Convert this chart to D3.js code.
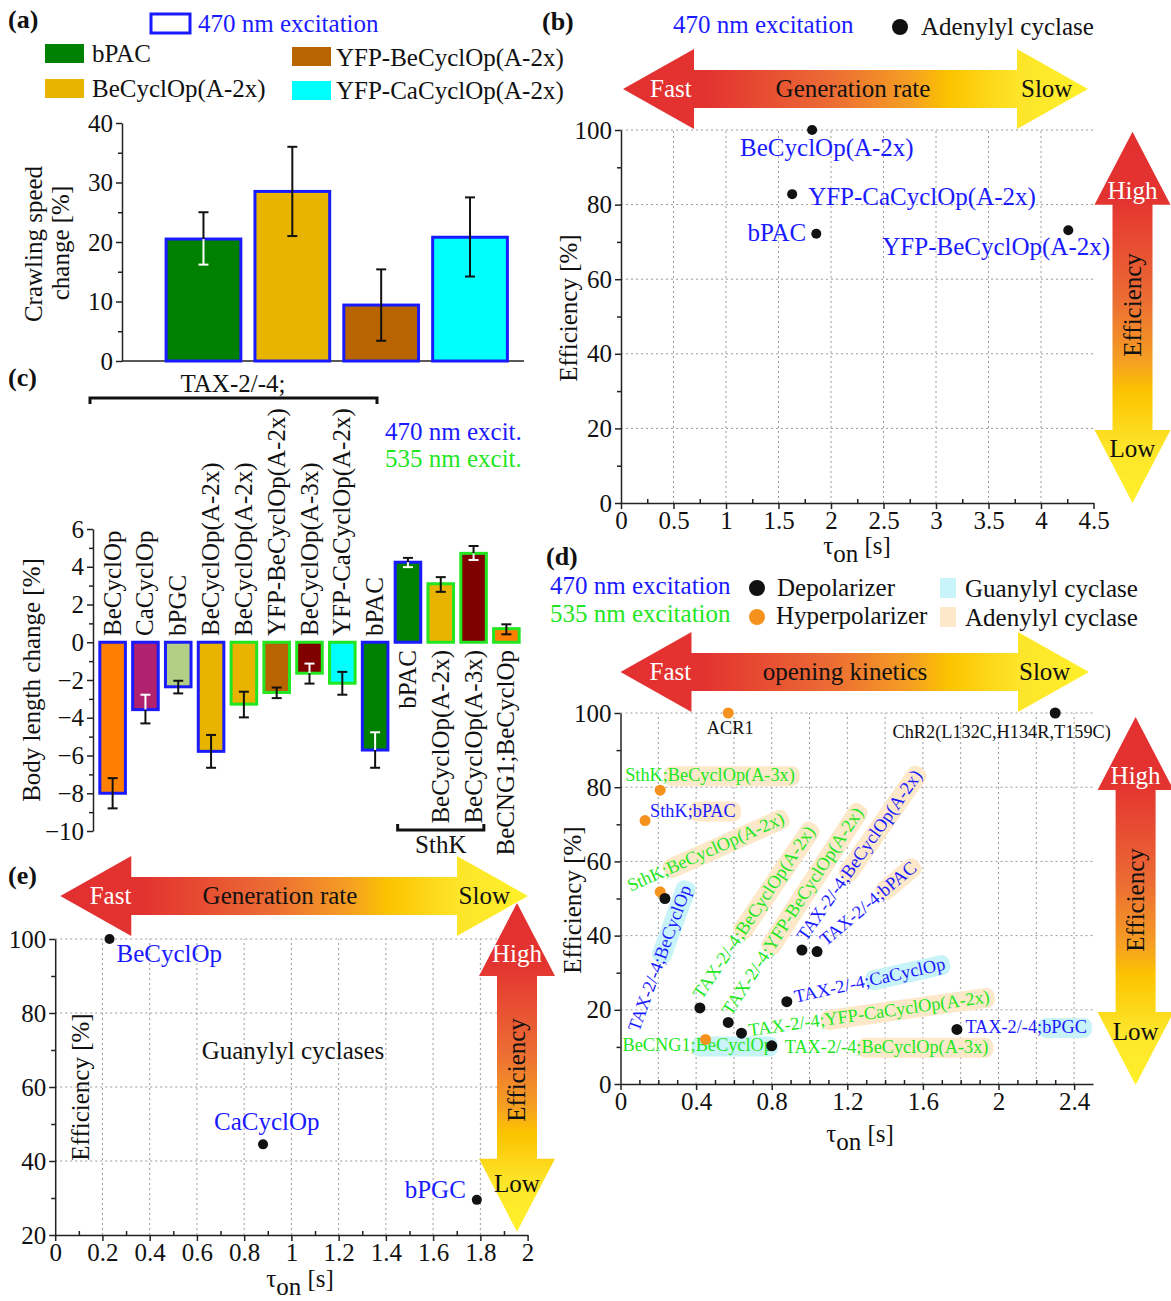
<!DOCTYPE html>
<html>
<head>
<meta charset="utf-8">
<script src="https://cdn.jsdelivr.net/npm/d3@7"></script>
<style>
  body { margin: 0; background: #fff; }
  svg text { font-family: "Liberation Serif", "Times New Roman", serif; }
</style>
</head>
<body>
<svg id="fig" width="1171" height="1301"></svg>
<script>
// ---------- data ----------
// (a) crawling speed
const aNames = ["bPAC", "BeCyclOp(A-2x)", "YFP-BeCyclOp(A-2x)", "YFP-CaCyclOp(A-2x)"];
const aValues = [20.5, 28.5, 9.4, 20.8];
const aErrLow = [16.2, 21.0, 3.4, 14.2];
const aErrHigh = [25.0, 36.0, 15.4, 27.5];
const aTicks = [0, 10, 20, 30, 40];
const aMinor = [5, 15, 25, 35];

// (b) adenylyl cyclases
const bNames = ["BeCyclOp(A-2x)", "YFP-CaCyclOp(A-2x)", "bPAC", "YFP-BeCyclOp(A-2x)"];
const bTau = [1.82, 1.63, 1.86, 4.26];
const bEff = [100, 82.8, 72.2, 73.1];
const bXTicks = [0, 0.5, 1, 1.5, 2, 2.5, 3, 3.5, 4, 4.5];
const bYTicks = [0, 20, 40, 60, 80, 100];

// (c) body length change
const cNames = ["BeCyclOp", "CaCyclOp", "bPGC", "BeCyclOp(A-2x)", "BeCyclOp(A-2x)",
  "YFP-BeCyclOp(A-2x)", "BeCyclOp(A-3x)", "YFP-CaCyclOp(A-2x)", "bPAC",
  "bPAC", "BeCyclOp(A-2x)", "BeCyclOp(A-3x)", "BeCNG1;BeCyclOp"];
const cGroup = ["TAX", "TAX", "TAX", "TAX", "TAX", "TAX", "TAX", "TAX", "TAX",
  "SthK", "SthK", "SthK", "other"];
const cExc = [470, 470, 470, 470, 535, 535, 535, 535, 470, 470, 535, 535, 535];
const cValues = [-8.0, -3.57, -2.36, -5.78, -3.28, -2.66, -1.64, -2.17, -5.71, 4.24, 3.1, 4.71, 0.72];
const cErrLow = [-8.8, -4.3, -2.71, -6.65, -3.98, -2.96, -2.19, -2.78, -6.65, 3.98, 2.67, 4.36, 0.42];
const cErrHigh = [-7.2, -2.78, -2.04, -4.91, -2.62, -2.4, -1.13, -1.57, -4.77, 4.47, 3.45, 5.1, 0.95];
const cTicks = [-10, -8, -6, -4, -2, 0, 2, 4, 6];

// (d) opening kinetics
const dNames = ["ACR1", "ChR2(L132C,H134R,T159C)", "SthK;BeCyclOp(A-3x)", "SthK;bPAC",
  "SthK;BeCyclOp(A-2x)", "TAX-2/-4;BeCyclOp", "BeCNG1;BeCyclOp", "TAX-2/-4;BeCyclOp(A-2x)",
  "TAX-2/-4;YFP-BeCyclOp(A-2x)", "TAX-2/-4;YFP-CaCyclOp(A-2x)", "TAX-2/-4;BeCyclOp(A-3x)",
  "TAX-2/-4;CaCyclOp", "TAX-2/-4;BeCyclOp(A-2x)", "TAX-2/-4;bPAC", "TAX-2/-4;bPGC"];
const dTau = [0.57, 2.30, 0.21, 0.13, 0.21, 0.235, 0.45, 0.42, 0.57, 0.64, 0.80, 0.88, 0.96, 1.04, 1.78];
const dEff = [100, 100, 79.2, 71, 51.8, 50, 12, 20.5, 16.6, 13.7, 10.3, 22.2, 36.1, 35.7, 14.7];
const dKind = ["hyper", "depol", "hyper", "hyper", "hyper", "depol", "hyper", "depol",
  "depol", "depol", "depol", "depol", "depol", "depol", "depol"];
const dExc = [0, 0, 535, 470, 535, 470, 535, 535, 535, 535, 535, 470, 470, 470, 470];
const dCyclase = ["", "", "adenylyl", "adenylyl", "adenylyl", "guanylyl", "guanylyl", "adenylyl",
  "adenylyl", "adenylyl", "adenylyl", "guanylyl", "adenylyl", "adenylyl", "guanylyl"];
const dXTicks = [0, 0.4, 0.8, 1.2, 1.6, 2, 2.4];
const dXGrid = [0.2, 0.4, 0.6, 0.8, 1, 1.2, 1.4, 1.6, 1.8, 2, 2.2, 2.4];
const dYTicks = [0, 20, 40, 60, 80, 100];

// (e) guanylyl cyclases
const eNames = ["BeCyclOp", "CaCyclOp", "bPGC"];
const eTau = [0.23, 0.88, 1.785];
const eEff = [100, 44.5, 29.5];
const eXTicks = [0, 0.2, 0.4, 0.6, 0.8, 1, 1.2, 1.4, 1.6, 1.8, 2];
const eYTicks = [20, 40, 60, 80, 100];

// ---------- styles ----------
const BLUE = "#1a1aff", GREEN = "#22e622", ORANGE_DOT = "#f5921e";
const fillOf = {
  "bPAC": "#008000", "BeCyclOp(A-2x)": "#e8b400", "YFP-BeCyclOp(A-2x)": "#b86400",
  "YFP-CaCyclOp(A-2x)": "#00ffff", "BeCyclOp": "#ff8000", "CaCyclOp": "#b0226e",
  "bPGC": "#b3cf85", "BeCyclOp(A-3x)": "#800000", "BeCNG1;BeCyclOp": "#ff8000"
};
const excColor = e => e === 470 ? BLUE : e === 535 ? GREEN : "#111";
const bgOf = { guanylyl: "#c8f3f8", adenylyl: "#fde8c9" };
const FONT = "Liberation Serif";
const FS = 25;

const svg = d3.select("#fig");
const defs = svg.append("defs");

const gh = defs.append("linearGradient").attr("id", "gradH")
  .attr("x1", 0).attr("y1", 0).attr("x2", 1).attr("y2", 0);
const gv = defs.append("linearGradient").attr("id", "gradV")
  .attr("x1", 0).attr("y1", 0).attr("x2", 0).attr("y2", 1);
const stops = [[0, "#e23030"], [0.18, "#e33330"], [0.45, "#ec6c34"], [0.62, "#f5a022"],
  [0.7, "#fcc300"], [0.85, "#fde52a"], [1, "#fff02a"]];
stops.forEach(s => {
  gh.append("stop").attr("offset", s[0]).attr("stop-color", s[1]);
  gv.append("stop").attr("offset", s[0]).attr("stop-color", s[1]);
});

// ---------- helpers ----------
function txt(g, x, y, s, opt = {}) {
  const t = g.append("text").attr("x", x).attr("y", y)
    .attr("font-size", opt.size || FS)
    .attr("fill", opt.color || "#111")
    .attr("text-anchor", opt.anchor || "start")
    .text(s);
  if (opt.bold) t.attr("font-weight", "bold");
  if (opt.rotate) t.attr("transform", `rotate(${opt.rotate},${x},${y})`);
  return t;
}

function styleAxis(ax) {
  ax.attr("font-family", FONT).attr("font-size", FS);
  ax.selectAll("path, line").attr("stroke", "#222").attr("stroke-width", 1.5);
  ax.selectAll("text").attr("fill", "#111");
}

function leftAxis(g, y, x0, majors, minors, fmt) {
  const a = g.append("g").attr("transform", `translate(${x0},0)`)
    .call(d3.axisLeft(y).tickValues(majors).tickSize(6).tickPadding(3).tickSizeOuter(0)
      .tickFormat(fmt || (d => String(d))));
  styleAxis(a);
  if (minors) {
    const m = g.append("g").attr("transform", `translate(${x0},0)`)
      .call(d3.axisLeft(y).tickValues(minors).tickSize(4).tickFormat(""));
    m.select(".domain").remove();
    styleAxis(m);
  }
}

function bottomAxis(g, x, y0, majors, minors, fmt) {
  const a = g.append("g").attr("transform", `translate(0,${y0})`)
    .call(d3.axisBottom(x).tickValues(majors).tickSize(6).tickPadding(2).tickSizeOuter(0)
      .tickFormat(fmt || (d => String(d))));
  styleAxis(a);
  if (minors) {
    const m = g.append("g").attr("transform", `translate(0,${y0})`)
      .call(d3.axisBottom(x).tickValues(minors).tickSize(-4).tickFormat(""));
    m.select(".domain").remove();
    styleAxis(m);
  }
}

function grid(g, x, y, xs, ys) {
  const [x0, x1] = x.range(), yTop = y(y.domain()[1]), yBot = y(y.domain()[0]);
  xs.forEach(v => g.append("line").attr("x1", x(v)).attr("x2", x(v))
    .attr("y1", yBot).attr("y2", yTop).attr("stroke", "#9a9a9a")
    .attr("stroke-width", 1).attr("stroke-dasharray", "2,3"));
  ys.forEach(v => g.append("line").attr("x1", x0).attr("x2", x1)
    .attr("y1", y(v)).attr("y2", y(v)).attr("stroke", "#9a9a9a")
    .attr("stroke-width", 1).attr("stroke-dasharray", "2,3"));
}

function hArrow(g, x0, x1, yc, texts) {
  const L = 71, H = 40, S = 19;
  const p = d3.path();
  p.moveTo(x0, yc); p.lineTo(x0 + L, yc - H); p.lineTo(x0 + L, yc - S);
  p.lineTo(x1 - L, yc - S); p.lineTo(x1 - L, yc - H); p.lineTo(x1, yc);
  p.lineTo(x1 - L, yc + H); p.lineTo(x1 - L, yc + S); p.lineTo(x0 + L, yc + S);
  p.lineTo(x0 + L, yc + H); p.closePath();
  g.append("path").attr("d", p.toString()).attr("fill", "url(#gradH)");
  txt(g, texts[0], yc + 8, "Fast", { color: "#fff" });
  txt(g, texts[1], yc + 8, texts[2], { anchor: "middle" });
  txt(g, texts[3], yc + 8, "Slow");
}

function vArrow(g, xc, y0, y1, hiBase, lowBase, effMid) {
  const L = 73, W = 38, S = 20;
  const p = d3.path();
  p.moveTo(xc, y0); p.lineTo(xc + W, y0 + L); p.lineTo(xc + S, y0 + L);
  p.lineTo(xc + S, y1 - L); p.lineTo(xc + W, y1 - L); p.lineTo(xc, y1);
  p.lineTo(xc - W, y1 - L); p.lineTo(xc - S, y1 - L); p.lineTo(xc - S, y0 + L);
  p.lineTo(xc - W, y0 + L); p.closePath();
  g.append("path").attr("d", p.toString()).attr("fill", "url(#gradV)");
  txt(g, xc, hiBase, "High", { color: "#fff", anchor: "middle" });
  txt(g, xc, lowBase, "Low", { anchor: "middle" });
  txt(g, xc + 8, effMid, "Efficiency", { anchor: "middle", rotate: -90 });
}

function tauLabel(g, xc, yb) {
  const t = g.append("text").attr("x", xc).attr("y", yb).attr("font-size", FS)
    .attr("fill", "#111").attr("text-anchor", "middle");
  t.append("tspan").text("τ");
  t.append("tspan").attr("dy", 8).text("on");
  t.append("tspan").attr("dy", -8).text(" [s]");
}

function errBar(g, xc, lo, hi, top, bottom, dark) {
  // part inside a dark bar is drawn white
  const inside = v => v >= top && v <= bottom;
  const seg = (a, b, col) => g.append("line").attr("x1", xc).attr("x2", xc)
    .attr("y1", a).attr("y2", b).attr("stroke", col).attr("stroke-width", 2);
  const cap = (v) => g.append("line").attr("x1", xc - 5).attr("x2", xc + 5)
    .attr("y1", v).attr("y2", v).attr("stroke", dark && inside(v) ? "#fff" : "#111")
    .attr("stroke-width", 2);
  const y1 = Math.min(lo, hi), y2 = Math.max(lo, hi);
  if (!dark) { seg(y1, y2, "#111"); }
  else {
    const a = Math.max(y1, top), b = Math.min(y2, bottom);
    if (y1 < a) seg(y1, Math.min(a, y2), "#111");
    if (b > a) seg(a, b, "#fff");
    if (y2 > b) seg(Math.max(b, y1), y2, "#111");
  }
  cap(y1); cap(y2);
}
const isDark = c => d3.lab(c).l < 48;

// ---------- panel labels ----------
txt(svg, 8, 28, "(a)", { bold: true, size: 26 });
txt(svg, 542, 30, "(b)", { bold: true, size: 26 });
txt(svg, 8, 386, "(c)", { bold: true, size: 26 });
txt(svg, 546, 565, "(d)", { bold: true, size: 26 });
txt(svg, 8, 884, "(e)", { bold: true, size: 26 });

// ---------- (a) ----------
{
  const g = svg.append("g");
  const y = d3.scaleLinear().domain([0, 40]).range([361, 123]);
  const x = d3.scaleBand().domain(aNames).range([159, 514.5]).paddingInner(0.159).paddingOuter(0.08);

  // legend
  g.append("rect").attr("x", 151).attr("y", 14).attr("width", 39).attr("height", 19)
    .attr("fill", "none").attr("stroke", BLUE).attr("stroke-width", 3);
  txt(g, 198, 32, "470 nm excitation", { color: BLUE });
  const legPos = [[45, 44, 92, 62], [45, 79, 92, 97], [292, 47, 336, 66], [292, 81, 336, 99]];
  aNames.forEach((n, i) => {
    const [sx, sy, tx, ty] = legPos[i];
    g.append("rect").attr("x", sx).attr("y", sy).attr("width", 39).attr("height", 19)
      .attr("fill", fillOf[n]);
    txt(g, tx, ty, n);
  });

  leftAxis(g, y, 122, aTicks, aMinor);
  g.append("line").attr("x1", 122).attr("x2", 524).attr("y1", 361).attr("y2", 361)
    .attr("stroke", "#222").attr("stroke-width", 1.5);

  aNames.forEach((n, i) => {
    g.append("rect").attr("x", x(n)).attr("y", y(aValues[i]))
      .attr("width", x.bandwidth()).attr("height", y(0) - y(aValues[i]))
      .attr("fill", fillOf[n]).attr("stroke", BLUE).attr("stroke-width", 3);
  });
  aNames.forEach((n, i) => {
    errBar(g, x(n) + x.bandwidth() / 2, y(aErrHigh[i]), y(aErrLow[i]),
      y(aValues[i]), y(0), isDark(fillOf[n]));
  });

  txt(g, 42, 244, "Crawling speed", { anchor: "middle", rotate: -90 });
  txt(g, 69, 243, "change  [%]", { anchor: "middle", rotate: -90 });
}

// ---------- (b) ----------
{
  const g = svg.append("g");
  const x = d3.scaleLinear().domain([0, 4.5]).range([621, 1093.5]);
  const y = d3.scaleLinear().domain([0, 100]).range([503, 130]);

  txt(g, 673, 33, "470 nm excitation", { color: BLUE });
  g.append("circle").attr("cx", 900).attr("cy", 27).attr("r", 8).attr("fill", "#111");
  txt(g, 921, 35, "Adenylyl cyclase");

  grid(g, x, y, bXTicks.filter(v => v > 0 && v < 4.5), bYTicks.filter(v => v > 0));
  leftAxis(g, y, 621, bYTicks, [10, 30, 50, 70, 90]);
  bottomAxis(g, x, 503, bXTicks, [0.25, 0.75, 1.25, 1.75, 2.25, 2.75, 3.25, 3.75, 4.25]);

  hArrow(g, 623, 1088, 89, [650, 853, "Generation rate", 1021]);
  vArrow(g, 1132.5, 131.7, 503, 198.7, 457, 305);

  bNames.forEach((n, i) => {
    g.append("circle").attr("cx", x(bTau[i])).attr("cy", y(bEff[i])).attr("r", 5).attr("fill", "#111");
  });
  const bLab = [[-72, 26, "start"], [16, 11, "start"], [-10, 7, "end"], [-186, 25, "start"]];
  bNames.forEach((n, i) => {
    txt(g, x(bTau[i]) + bLab[i][0], y(bEff[i]) + bLab[i][1], n, { color: BLUE, anchor: bLab[i][2] });
  });

  txt(g, 577, 308, "Efficiency [%]", { anchor: "middle", rotate: -90 });
  tauLabel(g, 857, 554);
}

// ---------- (c) ----------
{
  const g = svg.append("g");
  const y = d3.scaleLinear().domain([-10, 6]).range([831, 529]);
  const x = d3.scaleBand().domain(d3.range(cNames.length)).range([96.2, 522.8])
    .paddingInner(0.129).paddingOuter(0.065);

  txt(g, 385, 440, "470 nm excit.", { color: BLUE });
  txt(g, 385, 467, "535 nm excit.", { color: GREEN });

  // TAX-2/-4 bracket
  txt(g, 233, 392, "TAX-2/-4;", { anchor: "middle" });
  g.append("path").attr("d", `M90,404 V398 H377 V404`).attr("fill", "none")
    .attr("stroke", "#111").attr("stroke-width", 3);

  leftAxis(g, y, 93, cTicks, [-9, -7, -5, -3, -1, 1, 3, 5], d3.format(""));

  cNames.forEach((n, i) => {
    const v = cValues[i];
    g.append("rect").attr("x", x(i) + 1.5).attr("y", y(Math.max(0, v)))
      .attr("width", x.bandwidth() - 3).attr("height", Math.abs(y(v) - y(0)))
      .attr("fill", fillOf[n]).attr("stroke", cExc[i] === 470 ? BLUE : GREEN)
      .attr("stroke-width", 3);
  });
  cNames.forEach((n, i) => {
    const v = cValues[i];
    errBar(g, x(i) + x.bandwidth() / 2, y(cErrHigh[i]), y(cErrLow[i]),
      y(Math.max(0, v)), y(Math.min(0, v)), isDark(fillOf[n]));
  });
  // bar names
  cNames.forEach((n, i) => {
    const cx = x(i) + x.bandwidth() / 2 + 8;
    if (cValues[i] < 0) txt(g, cx, 636, n, { rotate: -90 });
    else txt(g, cx, 650, n, { rotate: -90, anchor: "end" });
  });
  // SthK bracket
  const sth = cGroup.map((c, i) => i).filter(i => cGroup[i] === "SthK");
  const sx0 = x(sth[0]) + 4, sx1 = x(sth[sth.length - 1]) + x.bandwidth() - 4;
  g.append("path").attr("d", `M${sx0},824 V830 H${sx1} V824`).attr("fill", "none")
    .attr("stroke", "#111").attr("stroke-width", 3);
  txt(g, (sx0 + sx1) / 2, 853, "SthK", { anchor: "middle" });

  txt(g, 40, 680, "Body length change  [%]", { anchor: "middle", rotate: -90 });
}

// ---------- (d) ----------
{
  const g = svg.append("g");
  const x = d3.scaleLinear().domain([0, 2.5]).range([620.5, 1093]);
  const y = d3.scaleLinear().domain([0, 100]).range([1084, 713]);

  // legend
  txt(g, 550, 594, "470 nm excitation", { color: BLUE });
  txt(g, 550, 622, "535 nm excitation", { color: GREEN });
  g.append("circle").attr("cx", 757).attr("cy", 588).attr("r", 8).attr("fill", "#111");
  txt(g, 777, 596, "Depolarizer");
  g.append("circle").attr("cx", 757).attr("cy", 617).attr("r", 8).attr("fill", ORANGE_DOT);
  txt(g, 776, 624, "Hyperpolarizer");
  g.append("rect").attr("x", 940).attr("y", 578).attr("width", 16).attr("height", 20).attr("fill", bgOf.guanylyl);
  txt(g, 965, 597, "Guanylyl cyclase");
  g.append("rect").attr("x", 940).attr("y", 607).attr("width", 16).attr("height", 20).attr("fill", bgOf.adenylyl);
  txt(g, 965, 626, "Adenylyl cyclase");

  hArrow(g, 620.5, 1089, 672, [649.5, 845, "opening kinetics", 1019]);

  grid(g, x, y, dXGrid, dYTicks.filter(v => v > 0));
  leftAxis(g, y, 620.5, dYTicks, [10, 30, 50, 70, 90]);
  bottomAxis(g, x, 1084, dXTicks, d3.range(1, 25).filter(k => k % 4 !== 0).map(k => k / 10));

  vArrow(g, 1135.6, 717, 1085, 784, 1040, 900);

  // label placement: [dx, dy, angle, anchor]
  const dLab = [[2, 21, 0, "middle"], [-53.5, 25, 0, "middle"], [-35, -9, 0], [5, -4, 0],
    [-29.5, 0, -24], [-26, 134, -70], [-83, 12, 0], [2, -8, -56], [3, -6, -57],
    [8, 3, -8], [13, 7, 0], [9, 1, -12.5], [4, -8, -55], [9, -5, -40], [8.5, 3.5, 0]];

  dNames.forEach((n, i) => {
    const [dx, dy, ang, anchor] = dLab[i];
    const grp = g.append("g")
      .attr("transform", `translate(${x(dTau[i]) + dx},${y(dEff[i]) + dy}) rotate(${ang})`);
    const col = excColor(dExc[i]);
    const hl = dCyclase[i] ? n.split(";")[1] : "";
    const prefix = hl ? n.slice(0, n.length - hl.length) : n;
    const bg = grp.append("rect");
    const t1 = grp.append("text").attr("font-size", 18.3).attr("fill", col)
      .attr("text-anchor", anchor || "start").text(prefix);
    if (hl) {
      const w1 = t1.node().getComputedTextLength();
      const t2 = grp.append("text").attr("x", w1).attr("font-size", 18.3).attr("fill", col).text(hl);
      const w2 = t2.node().getComputedTextLength();
      bg.attr("x", w1 - 4).attr("y", -15).attr("width", w2 + 9).attr("height", 20)
        .attr("rx", 8).attr("fill", bgOf[dCyclase[i]]);
    } else bg.remove();
  });

  dNames.forEach((n, i) => {
    g.append("circle").attr("cx", x(dTau[i])).attr("cy", y(dEff[i])).attr("r", 5.5)
      .attr("fill", dKind[i] === "depol" ? "#111" : ORANGE_DOT);
  });

  txt(g, 581, 900, "Efficiency [%]", { anchor: "middle", rotate: -90 });
  tauLabel(g, 860, 1142);
}

// ---------- (e) ----------
{
  const g = svg.append("g");
  const x = d3.scaleLinear().domain([0, 2]).range([55.2, 527.6]);
  const y = d3.scaleLinear().domain([20, 100]).range([1235, 939]);

  grid(g, x, y, eXTicks.filter(v => v > 0 && v < 2), eYTicks.filter(v => v > 20));
  leftAxis(g, y, 55.2, eYTicks, [30, 50, 70, 90]);
  bottomAxis(g, x, 1235, eXTicks, d3.range(1, 20, 2).map(k => k / 10));

  hArrow(g, 60.3, 528, 896, [89.7, 280, "Generation rate", 458.6]);
  vArrow(g, 517, 903, 1231.7, 962, 1192, 1070);

  txt(g, 293, 1059, "Guanylyl cyclases", { anchor: "middle" });

  const eLab = [[7, 23, "start"], [-49, -14, "start"], [-11, -2, "end"]];
  eNames.forEach((n, i) => {
    g.append("circle").attr("cx", x(eTau[i])).attr("cy", y(eEff[i])).attr("r", 5).attr("fill", "#111");
    txt(g, x(eTau[i]) + eLab[i][0], y(eEff[i]) + eLab[i][1], n, { color: BLUE, anchor: eLab[i][2] });
  });

  txt(g, 89, 1087, "Efficiency [%]", { anchor: "middle", rotate: -90 });
  tauLabel(g, 300, 1287);
}
</script>
</body>
</html>
